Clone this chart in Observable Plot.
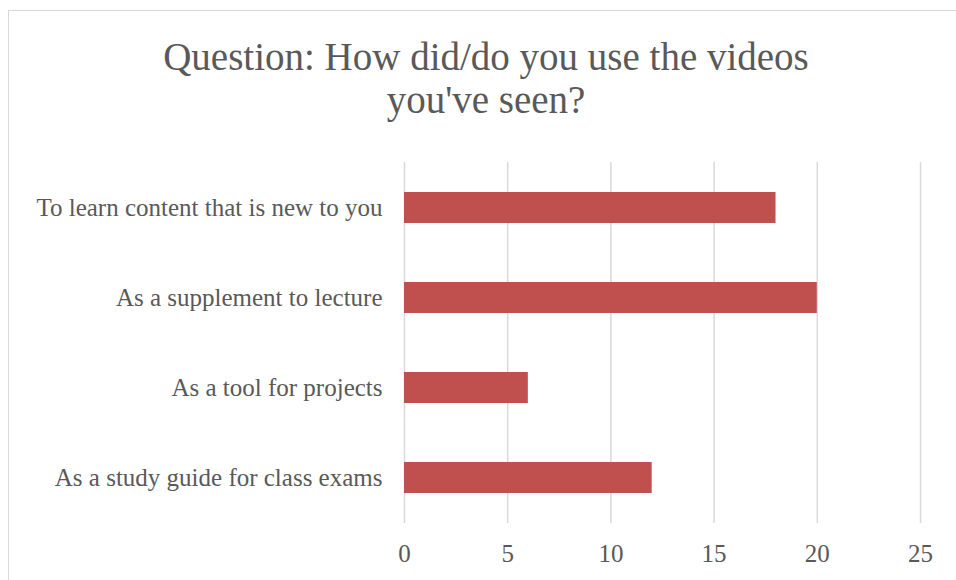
<!DOCTYPE html>
<html>
<head>
<meta charset="utf-8">
<script src="https://cdn.jsdelivr.net/npm/d3@7"></script>
<script src="https://cdn.jsdelivr.net/npm/@observablehq/plot@0.6"></script>
<style>
  html, body { margin: 0; padding: 0; background: #fff; overflow: hidden; }
  #wrap { position: relative; width: 956px; height: 580px; overflow: hidden; }
  #frame { position: absolute; left: 8px; top: 10px; width: 1000px; height: 700px;
           border: 1.5px solid #d9d9d9; box-sizing: border-box; }
  #title { position: absolute; left: 0; top: 36px; width: 972px; text-align: center;
           font-family: "Liberation Serif", serif; font-size: 39px; line-height: 42.6px;
           color: #595959; }
  #chart { position: absolute; left: 0; top: 0; }
</style>
</head>
<body>
<div id="wrap">
  <div id="frame"></div>
  <div id="chart"></div>
  <div id="title">Question: How did/do you use the videos<br>you've seen?</div>
</div>
<script>
const categories = [
  "To learn content that is new to you",
  "As a supplement to lecture",
  "As a tool for projects",
  "As a study guide for class exams"
];
const counts = [18, 20, 6, 12];
const xTicks = [0, 5, 10, 15, 20, 25];

const data = categories.map((c, i) => ({category: c, count: counts[i]}));

const chart = Plot.plot({
  width: 956,
  height: 580,
  marginTop: 162,
  marginBottom: 57,
  marginLeft: 404,
  marginRight: 36,
  style: {
    fontFamily: "Liberation Serif, serif",
    fontSize: "25px",
    color: "#595959",
    background: "transparent",
    overflow: "visible"
  },
  x: {domain: [0, 25], ticks: xTicks, label: null},
  y: {domain: categories, paddingInner: 0.65, paddingOuter: 0.325, label: null},
  marks: [
    Plot.gridX(xTicks, {stroke: "#d9d9d9", strokeOpacity: 1, strokeWidth: 1.5}),
    Plot.barX(data, {x: "count", y: "category", fill: "#C0504D"}),
    Plot.axisX({ticks: xTicks, tickSize: 0, tickPadding: 21, label: null, fontSize: 25}),
    Plot.axisY({tickSize: 0, tickPadding: 22, label: null, fontSize: 25})
  ]
});
document.getElementById("chart").appendChild(chart);
</script>
</body>
</html>
